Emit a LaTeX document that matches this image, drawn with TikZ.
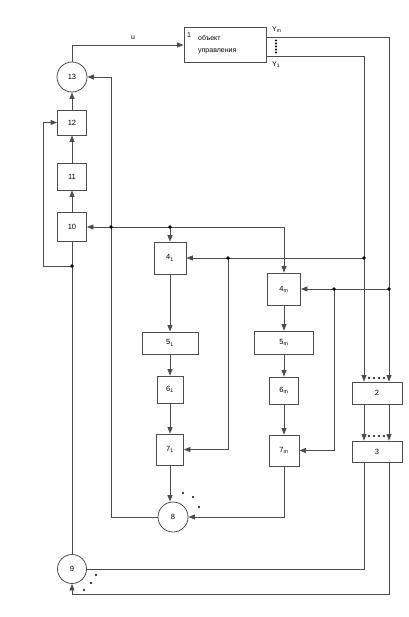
\documentclass[tikz,border=0pt]{standalone}
\usepackage{fontspec}
\setmainfont{Liberation Sans}
\usetikzlibrary{arrows.meta,calc}
\begin{document}
\begin{tikzpicture}[x=1pt,y=-1pt,
 line/.style={draw=black!70, line width=0.8pt},
 arr/.style={line, -{Triangle[length=6.5pt,width=5pt]}},
 blk/.style={draw=black!70, line width=0.8pt, rectangle, inner sep=0pt, font=\fontsize{7.5}{8}\selectfont},
 circ/.style={draw=black!70, line width=0.8pt, circle, inner sep=0pt, minimum size=30pt, font=\fontsize{7.5}{8}\selectfont},
 jdot/.style={circle, fill=black, inner sep=0pt, minimum size=3.8pt},
 sdot/.style={circle, fill=black, inner sep=0pt, minimum size=2.4pt},
 lbl/.style={inner sep=0pt, font=\fontsize{7}{8}\selectfont}]
\useasboundingbox (0,0) rectangle (408,617);
% object
\node[blk, minimum width=82pt, minimum height=35pt] (o1) at (225,45) {};
\node[lbl, anchor=west] (o1n) at (187,35) {1};
\node[lbl, anchor=west] (o1a) at (198,38) {объект};
\node[lbl, anchor=west] (o1b) at (198,51) {управления};
\node[lbl, anchor=west] (ylm) at (272,30) {Y\textsubscript{m}};
\node[lbl, anchor=west] (yl1) at (272,65) {Y\textsubscript{1}};
\coordinate (ym) at (266,37);
\coordinate (y1) at (266,56);
% left column
\node[circ] (c13) at (72,77) {13};
\node[blk, minimum width=29pt, minimum height=25pt] (b12) at (72,122.5) {12};
\node[blk, minimum width=29pt, minimum height=27pt] (b11) at (72,176.5) {11};
\node[blk, minimum width=29pt, minimum height=29pt] (b10) at (72,227) {10};
\node[circ, minimum size=29pt] (c9) at (72,569) {9};
% column 1
\node[blk, minimum width=32pt, minimum height=32pt] (b41) at (170,258) {4\textsubscript{1}};
\node[blk, minimum width=56pt, minimum height=22pt] (b51) at (170,343) {5\textsubscript{1}};
\node[blk, minimum width=26pt, minimum height=27pt] (b61) at (170,389.5) {6\textsubscript{1}};
\node[blk, minimum width=27pt, minimum height=31pt] (b71) at (170,449.5) {7\textsubscript{1}};
\node[circ] (c8) at (173,517) {8};
% column 2
\node[blk, minimum width=33pt, minimum height=32pt] (b4m) at (284,289) {4\textsubscript{m}};
\node[blk, minimum width=59pt, minimum height=23pt] (b5m) at (284,342.5) {5\textsubscript{m}};
\node[blk, minimum width=29pt, minimum height=27pt] (b6m) at (284,390.5) {6\textsubscript{m}};
\node[blk, minimum width=30pt, minimum height=31pt] (b7m) at (284,450.5) {7\textsubscript{m}};
% right
\node[blk, minimum width=50pt, minimum height=22pt] (b2) at (377,393) {2};
\node[blk, minimum width=50pt, minimum height=21pt] (b3) at (377,451.5) {3};
% junctions
\coordinate (ja) at (111,227);
\coordinate (jb) at (170,227);
\coordinate (jc) at (364,258);
\coordinate (jd) at (228,258);
\coordinate (je) at (389,289);
\coordinate (jf) at (334,289);
\coordinate (jg) at (72,266);
\coordinate (kl) at (43,266);
\coordinate (k9) at (389,594);
% connectors
\draw[arr] (c13.north) |- (o1.west);
\node[lbl] (u) at (133,38) {u};
\draw[arr] (ym) -| (je |- b2.north);
\draw[arr] (y1) -| (jc |- b2.north);
\draw[line] (c8.west) -| (ja);
\draw[arr] (ja) |- (c13.east);
\draw[arr] (ja) -- (ja -| b10.east);
\draw[line] (ja) -- (jb);
\draw[arr] (jb) -- (b41.north);
\draw[arr] (jb) -| (b4m.north);
\draw[arr] (b41) -- (b51);
\draw[arr] (b51) -- (b61);
\draw[arr] (b61) -- (b71);
\draw[arr] (b71.south) -- (b71.south |- c8.north);
\draw[arr] (b4m) -- (b5m);
\draw[arr] (b5m) -- (b6m);
\draw[arr] (b6m) -- (b7m);
\draw[arr] (b7m.south) |- (c8.east);
\draw[arr] (jc) -- (b41.east);
\draw[arr] (jd) |- (b71.east);
\draw[arr] (je) -- (b4m.east);
\draw[arr] (jf) |- (b7m.east);
\draw[arr] (jc |- b2.south) -- (jc |- b3.north);
\draw[arr] (je |- b2.south) -- (je |- b3.north);
\draw[line] (jc |- b3.south) |- (c9.east);
\draw[arr] (je |- b3.south) -- (k9) -| (c9.south);
\draw[line] (c9.north) -- (b10.south);
\draw[arr] (jg) -- (kl) |- (b12.west);
\draw[arr] (b10) -- (b11);
\draw[arr] (b11) -- (b12);
\draw[arr] (b12) -- (c13);
% junction dots
\foreach \j in {ja,jb,jc,jd,je,jf,jg} \node[jdot] at (\j) {};
% ellipsis dots
\foreach \yy in {40.5,43.5,46.5,49.5,52.5} \node[sdot] at (276,\yy) {};
\foreach \xx in {369,374,379,384} \node[sdot] at (\xx,378) {};
\foreach \xx in {369,374,379,384} \node[sdot] at (\xx,436) {};
\node[sdot] (d81) at (183,493) {};
\node[sdot] (d82) at (193,497) {};
\node[sdot] (d83) at (199,507) {};
\node[sdot] (d91) at (96,575) {};
\node[sdot] (d92) at (91,583) {};
\node[sdot] (d93) at (84,590) {};
\end{tikzpicture}
\end{document}
